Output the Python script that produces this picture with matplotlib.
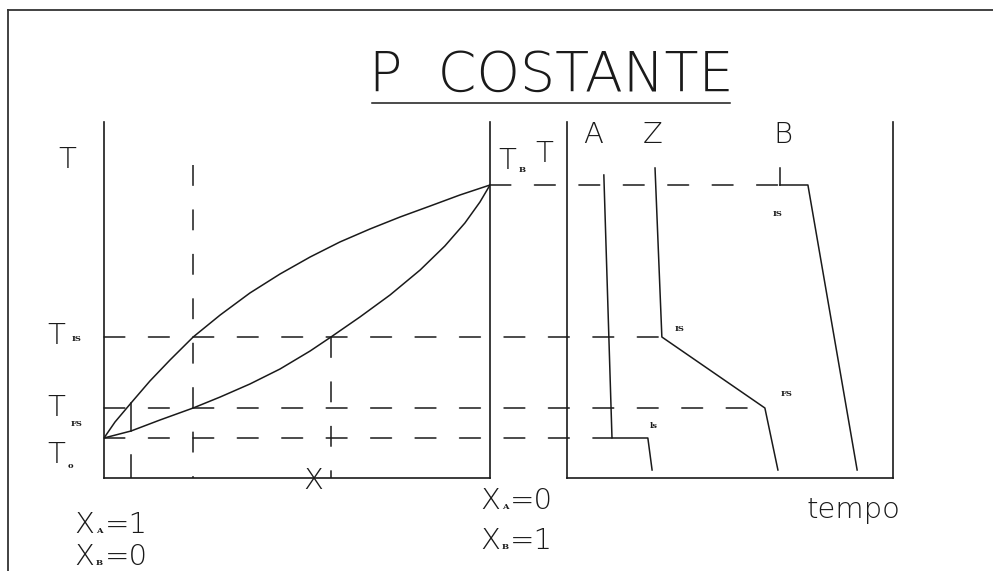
import matplotlib
matplotlib.use("Agg")
import matplotlib.pyplot as plt
from matplotlib.patches import ConnectionPatch
from matplotlib.lines import Line2D

plt.rcParams['lines.scale_dashes'] = False
plt.rcParams['font.family'] = ['DejaVu Sans']

# ---------------- data ----------------
# Temperature levels (arbitrary units)
T_A = 40      # T0 : boiling of pure A
T_FS = 70
T_IS = 141
T_B = 293
# compositions of the marked verticals
x_tie1 = 0.07
x_left = 0.231
x_right = 0.588

# upper (vapour) curve : composition, temperature
up_x = [0.0, 0.0285, 0.070, 0.119, 0.171, 0.231, 0.301, 0.378, 0.456,
        0.534, 0.611, 0.689, 0.767, 0.845, 0.922, 1.0]
up_T = [40, 56, 75, 97, 118, 141, 163, 185, 204, 221, 236, 249, 261, 272, 283, 293]
# lower (liquid) curve
lo_x = [0.0, 0.070, 0.145, 0.231, 0.301, 0.378, 0.456, 0.534, 0.588,
        0.663, 0.741, 0.819, 0.883, 0.935, 0.974, 1.0]
lo_T = [40, 47, 58, 70, 81, 94, 109, 127, 141, 161, 183, 208, 232, 255, 276, 293]

# cooling / heating curves vs time
A_t = [1.13, 1.38, 2.48, 2.61]
A_T = [303, 40, 40, 8]
Z_t = [2.70, 2.91, 6.07, 6.47]
Z_T = [310, 141, 70, 8]
B_t = [6.53, 7.39, 8.90]
B_T = [293, 293, 8]
B_tick_T = [310, 293]

W, H = 993, 571
fig = plt.figure(figsize=(W / 100, H / 100), dpi=100)
ink = '#1a1a1a'
lw = 1.1
dash = (0, (15, 17))

def fx(px):
    return px / W

def fy(py):
    return 1 - py / H

# outer frame
fig.add_artist(Line2D([fx(8), 1.0], [fy(10), fy(10)], color='#333', lw=1.3))
fig.add_artist(Line2D([fx(8), fx(8)], [fy(10), 0.0], color='#333', lw=1.3))

axL = fig.add_axes([fx(104), fy(478), 386 / W, 356 / H])
axR = fig.add_axes([fx(567), fy(478), 326 / W, 356 / H])
for ax in (axL, axR):
    ax.set_ylim(0, 356)
    ax.set_xticks([])
    ax.set_yticks([])
    ax.spines['top'].set_visible(False)
    for s in ('left', 'right', 'bottom'):
        ax.spines[s].set_linewidth(1.2)
        ax.spines[s].set_color(ink)
    ax.patch.set_alpha(0)
axL.set_xlim(0, 1)
axR.set_xlim(0, 10)

# phase diagram
axL.plot(up_x, up_T, color=ink, lw=lw)
axL.plot(lo_x, lo_T, color=ink, lw=lw)
axL.plot([x_tie1, x_tie1], [lo_T[1], up_T[2]], color=ink, lw=lw)
axL.plot([x_tie1, x_tie1], [0, 23], color=ink, lw=lw)
axL.plot([x_left, x_left], [313, 0], color=ink, lw=lw, linestyle=dash)
axL.plot([x_right, x_right], [T_IS, 0], color=ink, lw=lw, linestyle=dash)

# curves vs time
axR.plot(A_t, A_T, color=ink, lw=lw)
axR.plot(Z_t, Z_T, color=ink, lw=lw)
axR.plot(B_t, B_T, color=ink, lw=lw)
axR.plot([B_t[0], B_t[0]], B_tick_T, color=ink, lw=lw)

# dashed connections across both panels
for xa, Tval, tb in [(1.0, T_B, B_t[0]), (0.0, T_IS, Z_t[1]),
                     (0.0, T_FS, Z_t[2]), (0.0, T_A, A_t[1])]:
    cp = ConnectionPatch(xyA=(xa, Tval), coordsA=axL.transData,
                         xyB=(tb, Tval), coordsB=axR.transData,
                         color=ink, lw=lw, linestyle=dash)
    fig.add_artist(cp)

# ---------------- text ----------------
def txt(px, py, s, size, **kw):
    kw.setdefault('ha', 'center')
    kw.setdefault('va', 'center')
    kw.setdefault('color', ink)
    kw.setdefault('fontweight', 'light')
    fig.text(fx(px), fy(py), s, fontsize=size, **kw)

def tiny(px, py, s, size=6):
    fig.text(fx(px), fy(py), s, fontsize=size, ha='center', va='center',
             color=ink, fontweight='bold', family='DejaVu Serif')

# title
txt(551, 76, 'P  COSTANTE', 40)
fig.add_artist(Line2D([fx(372), fx(730)], [fy(103), fy(103)], color=ink, lw=1.1))

# axis labels
txt(67, 160, 'T', 21)
txt(56, 336, 'T', 21); tiny(77, 339, 'IS')
txt(56, 408, 'T', 21); tiny(77, 424, 'FS')
txt(56, 455, 'T', 21); tiny(70, 466, 'o')
txt(507, 161, 'T', 21); tiny(522, 170, 'B')
txt(544, 154, 'T', 21)
txt(593, 135, 'A', 21)
txt(653, 135, 'Z', 21)
txt(783, 135, 'B', 21)
txt(313, 481, 'X', 21)

txt(84, 525, 'X', 21); tiny(99, 531, 'A'); txt(105, 525, '=1', 21, ha='left')
txt(84, 557, 'X', 21); tiny(99, 563, 'B'); txt(105, 557, '=0', 21, ha='left')
txt(490, 501, 'X', 21); tiny(505, 507, 'A'); txt(510, 501, '=0', 21, ha='left')
txt(490, 541, 'X', 21); tiny(505, 547, 'B'); txt(510, 541, '=1', 21, ha='left')
txt(853, 510, 'tempo', 21)

# small annotations on the time curves
tiny(778, 214, 'IS')
tiny(680, 329, 'IS')
tiny(787, 394, 'FS')
tiny(654, 426, 'ls')

fig.savefig('out.png', dpi=100)
